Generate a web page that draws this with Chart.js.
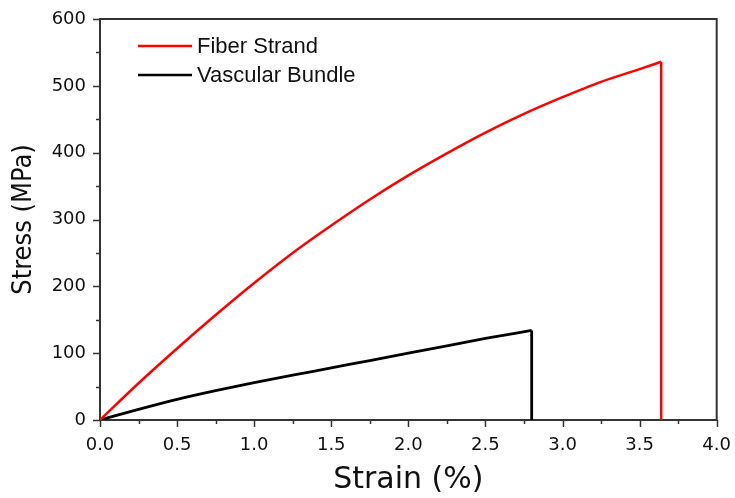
<!DOCTYPE html>
<html>
<head>
<meta charset="utf-8">
<script src="https://cdn.jsdelivr.net/npm/chart.js@4/dist/chart.umd.min.js"></script>
<style>
  html, body { margin:0; padding:0; background:#fff; }
  #wrap { width:735px; height:498px; position:relative; }
</style>
</head>
<body>
<div id="wrap"><canvas id="c"></canvas></div>
<script>
// strain (%) and stress (MPa)
const fiberStrain = [0, 0.25, 0.5, 0.75, 1.0, 1.25, 1.5, 1.75, 2.0, 2.25, 2.5, 2.75, 3.0, 3.25, 3.5, 3.64];
const fiberStress = [0, 55, 107, 157, 205, 250, 291, 330, 366, 399, 430, 458, 483, 506, 525, 536];
const bundleStrain = [0, 0.25, 0.5, 0.75, 1.0, 1.25, 1.5, 1.75, 2.0, 2.25, 2.5, 2.8];
const bundleStress = [0, 16, 31, 44, 56, 67, 78, 89, 100, 111, 122, 134];
// failure: stress drops to zero at the final strain
const fiberBreak = [3.64, 536, 0];
const bundleBreak = [2.8, 134, 0];
const seriesNames = ["Fiber Strand", "Vascular Bundle"];
const seriesColors = ["#ff0000", "#000000"];

const pts = (xs, ys) => xs.map((x, i) => ({ x, y: ys[i] }));
const drop = b => [{ x: b[0], y: b[1] }, { x: b[0], y: b[2] }];

const axisColor = "#333";
const tickFont = { family: "DejaVu Sans", size: 18 };

// minor/major tick marks outward + top/right frame
const frameTicks = {
  id: "frameTicks",
  afterDraw(chart) {
    const ctx = chart.ctx, a = chart.chartArea;
    const xs = chart.scales.x, ys = chart.scales.y;
    ctx.save();
    ctx.strokeStyle = axisColor;
    ctx.lineWidth = 2;
    ctx.beginPath();
    ctx.moveTo(a.left, a.top); ctx.lineTo(a.right, a.top); ctx.lineTo(a.right, a.bottom);
    ctx.stroke();
    ctx.lineWidth = 1.5;
    ctx.beginPath();
    for (let v = 0; v <= 4.0001; v += 0.25) {
      const px = Math.round(xs.getPixelForValue(v)) + 0.5;
      const len = Math.abs(v / 0.5 - Math.round(v / 0.5)) < 1e-6 ? 7 : 4;
      ctx.moveTo(px, a.bottom); ctx.lineTo(px, a.bottom + len);
    }
    for (let v = 0; v <= 600; v += 50) {
      const py = Math.round(ys.getPixelForValue(v)) + 0.5;
      const len = v % 100 === 0 ? 7 : 4;
      ctx.moveTo(a.left, py); ctx.lineTo(a.left - len, py);
    }
    ctx.stroke();
    ctx.restore();
  }
};

// legend inside the plot, top left
const innerLegend = {
  id: "innerLegend",
  afterDraw(chart) {
    const ctx = chart.ctx;
    ctx.save();
    ctx.font = "22px 'Liberation Sans'";
    ctx.textBaseline = "middle";
    ctx.fillStyle = "#111";
    seriesNames.forEach((name, i) => {
      const y = 46 + i * 29;
      ctx.strokeStyle = seriesColors[i];
      ctx.lineWidth = 2.5;
      ctx.beginPath();
      ctx.moveTo(138, y); ctx.lineTo(192, y);
      ctx.stroke();
      ctx.fillText(name, 197, y + 1);
    });
    ctx.restore();
  }
};

const line = (label, data, color, w, smooth) => ({
  label, data, showLine: true, borderColor: color, borderWidth: w,
  pointRadius: 0, fill: false, tension: 0,
  cubicInterpolationMode: smooth ? "monotone" : "default"
});

new Chart(document.getElementById("c").getContext("2d"), {
  type: "scatter",
  data: {
    datasets: [
      line(seriesNames[0], pts(fiberStrain, fiberStress), seriesColors[0], 2.5, true),
      line(seriesNames[1], pts(bundleStrain, bundleStress), seriesColors[1], 2.8, true),
      line("", drop(fiberBreak), seriesColors[0], 2.5, false),
      line("", drop(bundleBreak), seriesColors[1], 2.8, false)
    ]
  },
  options: {
    responsive: true,
    maintainAspectRatio: false,
    animation: false,
    layout: { padding: { left: 0, right: 18, top: 19, bottom: 0 } },
    plugins: { legend: { display: false }, tooltip: { enabled: false } },
    scales: {
      x: {
        type: "linear", min: 0, max: 4,
        afterFit: s => { s.height = 78; },
        grid: { drawOnChartArea: false, tickLength: 11, tickColor: "rgba(0,0,0,0)" },
        border: { color: axisColor, width: 2 },
        ticks: {
          stepSize: 0.25, autoSkip: false, maxRotation: 0, padding: 4,
          color: "#111", font: tickFont,
          callback: v => Math.abs(v / 0.5 - Math.round(v / 0.5)) < 1e-6 ? v.toFixed(1) : ""
        },
        title: { display: true, text: "Strain (%)", color: "#111",
          font: { family: "DejaVu Sans", size: 30 }, padding: { top: 2, bottom: 0 } }
      },
      y: {
        type: "linear", min: 0, max: 600,
        afterFit: s => { s.width = 100; },
        grid: { drawOnChartArea: false, tickLength: 7, tickColor: "rgba(0,0,0,0)" },
        border: { color: axisColor, width: 2 },
        ticks: {
          stepSize: 50, autoSkip: false, padding: 7,
          color: "#111", font: tickFont,
          callback: v => v % 100 === 0 ? String(v) : ""
        },
        title: { display: true, text: "Stress (MPa)", color: "#111",
          font: { family: "DejaVu Sans Condensed", size: 27 }, padding: { top: 8, bottom: 4 } }
      }
    }
  },
  plugins: [frameTicks, innerLegend]
});
</script>
</body>
</html>
